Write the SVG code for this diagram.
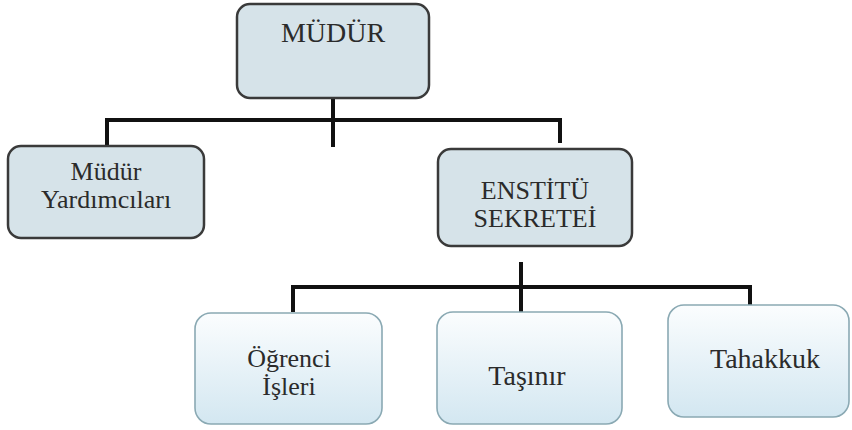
<svg xmlns="http://www.w3.org/2000/svg" width="852" height="430" viewBox="0 0 852 430">
<defs>
<linearGradient id="g" x1="0" y1="0" x2="0" y2="1">
<stop offset="0" stop-color="#fbfdfe"/>
<stop offset="1" stop-color="#d3e7f1"/>
</linearGradient>
</defs>
<rect width="852" height="430" fill="#fff"/>
<g id="connectors" stroke="#111" stroke-width="4" fill="none">
<line x1="333" y1="98" x2="333" y2="147"/>
<polyline points="107,146 107,120 560,120 560,143"/>
<line x1="521" y1="262" x2="521" y2="312"/>
<polyline points="293,312 293,287 750,287 750,307"/>
</g>
<g id="mudur">
<rect x="237" y="4" width="192" height="94" rx="13" fill="#d6e3e9" stroke="#3a3a3a" stroke-width="2.5"/>
<text x="333" y="42" font-size="28" fill="#2b2b2b" text-anchor="middle" style="font-family:'Liberation Serif'">MÜDÜR</text>
</g>
<g id="mudur-yardimcilari">
<rect x="8" y="146" width="196" height="92" rx="13" fill="#d6e3e9" stroke="#3a3a3a" stroke-width="2.5"/>
<text x="106" y="180" font-size="26" fill="#2b2b2b" text-anchor="middle" style="font-family:'Liberation Serif'">Müdür</text>
<text x="106" y="208" font-size="26" fill="#2b2b2b" text-anchor="middle" style="font-family:'Liberation Serif'">Yardımcıları</text>
</g>
<g id="enstitu-sekretei">
<rect x="438" y="149" width="194" height="97" rx="13" fill="#d6e3e9" stroke="#3a3a3a" stroke-width="2.5"/>
<text x="535" y="199" font-size="26" fill="#2b2b2b" text-anchor="middle" style="font-family:'Liberation Serif'">ENSTİTÜ</text>
<text x="535" y="227" font-size="26" fill="#2b2b2b" text-anchor="middle" style="font-family:'Liberation Serif'">SEKRETEİ</text>
</g>
<g id="ogrenci-isleri">
<rect x="195" y="313" width="187" height="111" rx="16" fill="url(#g)" stroke="#8aa9b3" stroke-width="1.6"/>
<text x="289" y="367" font-size="26" fill="#2b2b2b" text-anchor="middle" style="font-family:'Liberation Serif'">Öğrenci</text>
<text x="289" y="395" font-size="26" fill="#2b2b2b" text-anchor="middle" style="font-family:'Liberation Serif'">İşleri</text>
</g>
<g id="tasinir">
<rect x="437" y="312" width="185" height="112" rx="16" fill="url(#g)" stroke="#8aa9b3" stroke-width="1.6"/>
<text x="527" y="385" font-size="28" fill="#2b2b2b" text-anchor="middle" style="font-family:'Liberation Serif'">Taşınır</text>
</g>
<g id="tahakkuk">
<rect x="668" y="305" width="181" height="112" rx="16" fill="url(#g)" stroke="#8aa9b3" stroke-width="1.6"/>
<text x="765" y="368" font-size="28" fill="#2b2b2b" text-anchor="middle" style="font-family:'Liberation Serif'">Tahakkuk</text>
</g>
</svg>
